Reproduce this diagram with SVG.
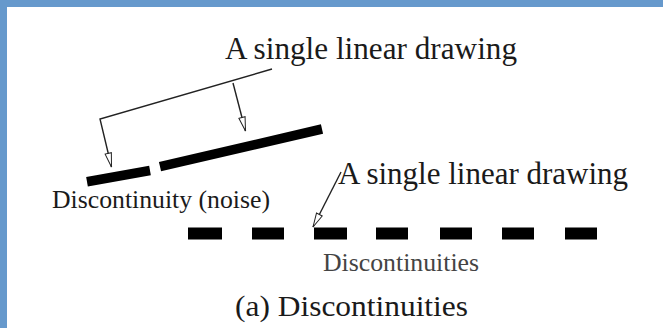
<svg xmlns="http://www.w3.org/2000/svg" width="663" height="328" viewBox="0 0 663 328">
  <defs>
    <marker id="open" markerUnits="userSpaceOnUse" viewBox="-1 -5 16 10" markerWidth="16" markerHeight="10" refX="14" refY="0" orient="auto">
      <path d="M0,-3.2 L14,0 L0,3.2 Z" fill="#fff" stroke="#222" stroke-width="1"/>
    </marker>
    <style>
      .lbl { font-family: "Liberation Serif", "Times New Roman", serif; fill: #1a1a1a; }
      .lead { fill: none; stroke: #222; stroke-width: 1.4; }
      .bar { stroke: #000; stroke-width: 9.5; stroke-linecap: butt; }
      .dash { fill: #000; }
    </style>
  </defs>
  <rect x="0" y="0" width="663" height="328" fill="#fff"/>
  <rect x="0" y="0" width="663" height="7" fill="#6699CC"/>
  <rect x="0" y="0" width="7" height="328" fill="#6699CC"/>

  <g id="top-label">
    <text class="lbl" x="225" y="59" font-size="32" textLength="292" lengthAdjust="spacingAndGlyphs">A single linear drawing</text>
  </g>
  <g id="noisy-line">
    <line class="bar" x1="87" y1="181.7" x2="150" y2="170.5"/>
    <line class="bar" x1="160" y1="166.7" x2="322" y2="129"/>
  </g>
  <g id="noise-label">
    <text class="lbl" x="52" y="208" font-size="25" textLength="218" lengthAdjust="spacingAndGlyphs">Discontinuity (noise)</text>
  </g>
  <g id="second-label">
    <text class="lbl" x="338" y="184" font-size="32" textLength="290" lengthAdjust="spacingAndGlyphs">A single linear drawing</text>
  </g>
  <g id="dashed-line">
    <rect class="dash" x="188" y="227.5" width="34" height="12"/>
    <rect class="dash" x="252" y="227.5" width="32" height="12"/>
    <rect class="dash" x="314" y="227.5" width="33" height="12"/>
    <rect class="dash" x="376" y="227.5" width="32" height="12"/>
    <rect class="dash" x="440" y="227.5" width="32" height="12"/>
    <rect class="dash" x="502" y="227.5" width="32" height="12"/>
    <rect class="dash" x="565" y="227.5" width="32" height="12"/>
  </g>
  <g id="dash-label">
    <text class="lbl" x="323" y="271" font-size="26" style="fill:#444" textLength="156" lengthAdjust="spacingAndGlyphs">Discontinuities</text>
  </g>
  <g id="caption">
    <text class="lbl" x="235" y="316" font-size="30" textLength="233" lengthAdjust="spacingAndGlyphs">(a) Discontinuities</text>
  </g>

  <g id="connectors">
    <polyline class="lead" points="272,69 100,119 111.5,167" marker-end="url(#open)"/>
    <line class="lead" x1="233" y1="83" x2="245.5" y2="131" marker-end="url(#open)"/>
    <line class="lead" x1="341" y1="172" x2="313" y2="227" marker-end="url(#open)"/>
  </g>
</svg>
